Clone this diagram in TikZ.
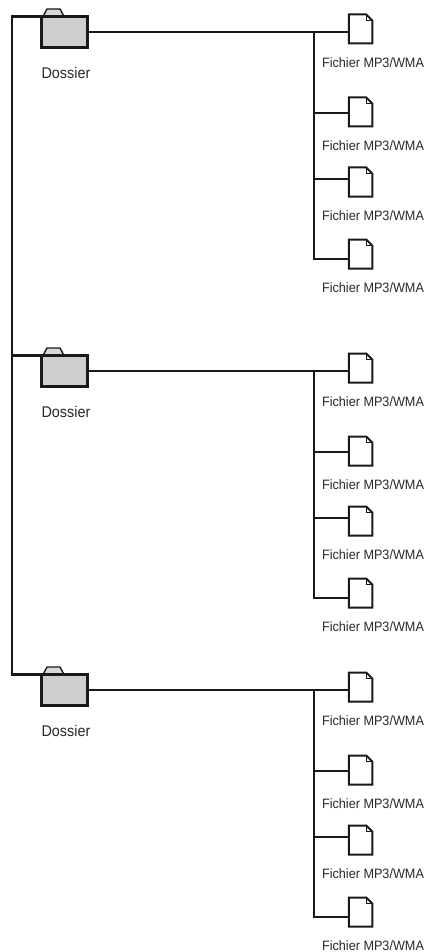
\documentclass[tikz,border=0pt]{standalone}
\usepackage{fontspec}
\setmainfont{Liberation Sans}[FakeStretch=0.93]
\usetikzlibrary{calc,backgrounds}
\definecolor{foldergray}{RGB}{205,206,208}
\definecolor{txtgray}{RGB}{40,40,40}
\tikzset{
  conn/.style={line width=2.3pt, black!90, line cap=rect},
  folder/.style={rectangle, draw=black!90, line width=2.2pt, fill=foldergray,
    minimum width=46pt, minimum height=31pt, inner sep=0pt, outer sep=0pt},
  foldertab/.style={draw=black!90, line width=1.4pt, fill=foldergray!80!white, line join=round},
  doc/.style={rectangle, draw=none, minimum width=23.5pt, minimum height=29pt, inner sep=0pt, outer sep=0pt},
  docline/.style={draw=black!90, line width=2pt, fill=white, line join=miter},
  docfold/.style={draw=black!90, line width=0.9pt},
  flabel/.style={inner sep=0pt, text=txtgray, font=\fontsize{13.6}{15}\selectfont},
  dlabel/.style={inner sep=0pt, text=txtgray, font=\fontsize{15.5}{17}\selectfont}
}
\begin{document}
\begin{tikzpicture}[x=1pt,y=-1pt]
\useasboundingbox (0,0) rectangle (426,952);
\foreach \g/\G in {1/0,2/339,3/658} {
  \node[folder] (f\g) at (64.5,32+\G) {};
  \begin{scope}[on background layer]
    \draw[foldertab] ($(f\g.north west)+(1.5pt,0pt)$) -- ++(4pt,7.5pt) -- ++(13pt,0pt) -- ++(4pt,-7.5pt);
  \end{scope}
  \node[dlabel] (fl\g) at (66,73+\G) {Dossier};
  \foreach \i/\t/\b in {1/14/32, 2/97/113, 3/167/179, 4/239/259} {
    \node[doc] (d\g\i) at (360.5,\t+15+\G) {};
    \draw[docline] (d\g\i.south west) -- (d\g\i.north west) -- ($(d\g\i.north east)+(-6pt,0pt)$) -- ($(d\g\i.north east)+(0pt,-6pt)$) -- (d\g\i.south east) -- cycle;
    \draw[docfold] ($(d\g\i.north east)+(-6pt,0pt)$) -- ($(d\g\i.north east)+(-6pt,-6pt)$) -- ($(d\g\i.north east)+(0pt,-6pt)$);
    \node[flabel] (l\g\i) at (373,\t+49+\G) {Fichier MP3/WMA};
    \coordinate (j\g\i) at (314,\b+\G);
  }
  \draw[conn] (f\g.east) -- (d\g1.west |- f\g.east);
  \draw[conn] (j\g1) -- (j\g4);
  \foreach \i in {2,3,4} {
    \draw[conn] (j\g\i) -- (j\g\i -| d\g\i.west);
  }
}
\coordinate (spinetop) at (12,16.5);
\draw[conn] (f1.north west) -- (spinetop) |- (f3.north west);
\draw[conn] (spinetop |- f2.north west) -- (f2.north west);
\end{tikzpicture}
\end{document}
